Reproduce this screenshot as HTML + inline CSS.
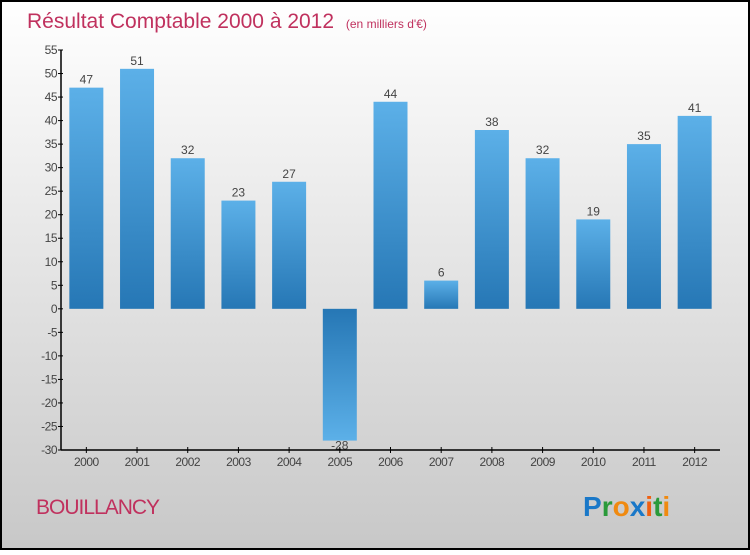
<!DOCTYPE html>
<html><head><meta charset="utf-8"><style>
html,body{margin:0;padding:0;}
body{width:750px;height:550px;overflow:hidden;font-family:"Liberation Sans",sans-serif;}
</style></head><body>
<svg id="chart" width="750" height="550" xmlns="http://www.w3.org/2000/svg">
<defs>
<linearGradient id="bg" x1="0" y1="0" x2="0" y2="1"><stop offset="0" stop-color="#ffffff"/><stop offset="1" stop-color="#c8c8c8"/></linearGradient>
<linearGradient id="gpos" x1="0" y1="1" x2="0" y2="0"><stop offset="0" stop-color="#2677b5"/><stop offset="1" stop-color="#5cb0e8"/></linearGradient>
<linearGradient id="gneg" x1="0" y1="0" x2="0" y2="1"><stop offset="0" stop-color="#2677b5"/><stop offset="1" stop-color="#5cb0e8"/></linearGradient>
</defs>
<rect x="1" y="1" width="748" height="548" fill="url(#bg)" stroke="#000" stroke-width="2"/>
<text x="27" y="28" font-size="21" fill="#c0315e">Résultat Comptable 2000 à 2012 <tspan font-size="12" dx="6">(en milliers d'€)</tspan></text>
<g id="yaxis"></g>
<g id="bars"></g>
<g id="xaxis"></g>
<text x="36" y="514" font-size="21" fill="#c0315e" letter-spacing="-1">BOUILLANCY</text>
<g font-size="28" font-weight="bold" font-family="Liberation Sans, sans-serif">
<text x="583" y="516"><tspan fill="#1a78c8">P</tspan><tspan fill="#2a9a3a">r</tspan><tspan fill="#f08a10">o</tspan><tspan fill="#1a78c8">x</tspan><tspan fill="#f06010">i</tspan><tspan fill="#2a9a3a">t</tspan><tspan fill="#f08a10">i</tspan></text>
</g>
</svg>
<script>
const categories=["2000","2001","2002","2003","2004","2005","2006","2007","2008","2009","2010","2011","2012"];
const values=[47,51,32,23,27,-28,44,6,38,32,19,35,41];
const yTicks=[55,50,45,40,35,30,25,20,15,10,5,0,-5,-10,-15,-20,-25,-30];
(function(){
const NS="http://www.w3.org/2000/svg";
const yMin=-30,yMax=55,yTop=50,yBot=450,xLeft=61,xRight=720;
function y(v){return yBot-(v-yMin)/(yMax-yMin)*(yBot-yTop);}
const step=(xRight-xLeft)/categories.length;
function xc(i){return xLeft+step*(i+0.5);}
function mk(tag,attrs,parent,txt){const e=document.createElementNS(NS,tag);for(const k in attrs)e.setAttribute(k,attrs[k]);if(txt!==undefined)e.textContent=txt;parent.appendChild(e);return e;}
const ya=document.getElementById('yaxis'),xa=document.getElementById('xaxis'),bg=document.getElementById('bars');
const yl=mk('line',{x1:xLeft,y1:yTop,x2:xLeft,y2:yBot,stroke:'#000','stroke-width':1.5},ya);


yTicks.forEach(t=>{
 const l=mk('line',{x1:xLeft-3,x2:xLeft+2,y1:y(t),y2:y(t),stroke:'#000'},ya);
 
 
 const tx=mk('text',{x:xLeft-4,y:y(t)+4,'text-anchor':'end','font-size':12,fill:'#444','letter-spacing':'-0.5'},ya,String(t));
 
 
});
const bw=34;
values.forEach((v,i)=>{
 const x=xc(i);
 const y0=y(0),y1=y(v);
 const r=mk('rect',{x:x-bw/2,y:Math.min(y0,y1),width:bw,height:Math.abs(y1-y0),fill:v>=0?'url(#gpos)':'url(#gneg)'},bg);
 
 
 const ly=v>=0?y1-4:y1+9;
 const t=mk('text',{x:x,y:ly,'text-anchor':'middle','font-size':12,fill:'#444'},bg,String(v));
 
 
});
const xl=mk('line',{x1:xLeft,y1:yBot,x2:xRight,y2:yBot,stroke:'#000','stroke-width':1.5},xa);


categories.forEach((c,i)=>{
 const l=mk('line',{x1:xc(i),x2:xc(i),y1:yBot-3,y2:yBot+3,stroke:'#000'},xa);
 
 
 const t=mk('text',{x:xc(i),y:yBot+16,'text-anchor':'middle','font-size':12,fill:'#444','letter-spacing':'-0.5'},xa,c);
 
 
});
})();
</script>
</body></html>
